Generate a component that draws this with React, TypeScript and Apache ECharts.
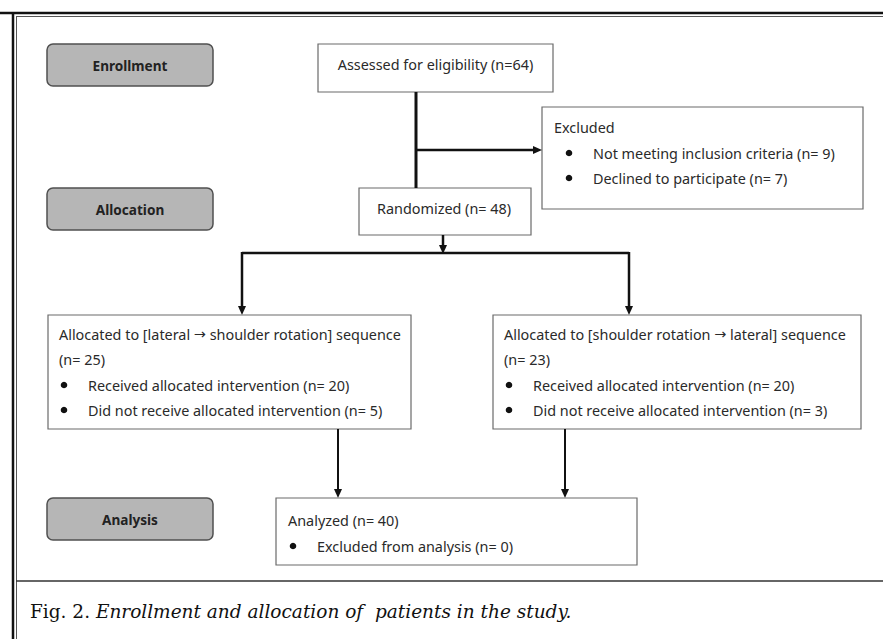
import React, { useEffect, useRef } from "react";
import * as echarts from "echarts";

// ---- data (text content and counts) ----
const stageLabels = ["Enrollment", "Allocation", "Analysis"];
const assessedCount = 64;
const excludedReasons = ["Not meeting inclusion criteria", "Declined to participate"];
const excludedCounts = [9, 7];
const randomizedCount = 48;
const groupSequences = [
  ["lateral", "shoulder rotation"],
  ["shoulder rotation", "lateral"],
];
const groupCounts = [25, 23];
const receivedCounts = [20, 20];
const notReceivedCounts = [5, 3];
const analyzedCount = 40;
const excludedFromAnalysis = 0;
const captionLabel = "Fig. 2.";
const captionText = "Enrollment and allocation of  patients in the study.";

const SANS = "'Noto Sans', 'Open Sans', sans-serif";
const FS = 14.4;
const TXT = "#2a2a2a";
const BOX_STROKE = "#6a6a6a";

function box(x: number, y: number, w: number, h: number) {
  return {
    type: "rect",
    shape: { x, y, width: w, height: h },
    style: { fill: "#fff", stroke: BOX_STROKE, lineWidth: 1.2 },
  };
}
function stage(label: string, y: number) {
  return [
    {
      type: "rect",
      shape: { x: 47, y, width: 166, height: 42, r: 6 },
      style: { fill: "#b6b6b6", stroke: "#505050", lineWidth: 1.5 },
    },
    {
      type: "text",
      style: {
        text: label, x: 130, y: y + 21, align: "center", verticalAlign: "middle",
        fontFamily: SANS, fontSize: 13.6, fontWeight: "bold", fill: "#222",
      },
    },
  ];
}
function txt(text: string, x: number, y: number, align = "left") {
  return {
    type: "text",
    style: { text, x, y, align, verticalAlign: "middle", fontFamily: SANS, fontSize: FS, fill: TXT },
  };
}
function arrowTxt(before: string, a: string, b: string, after: string, x: number, y: number) {
  return {
    type: "text",
    style: {
      text: `{t|${before}${a} }{a|→}{t| ${b}${after}}`,
      x, y, verticalAlign: "middle",
      fontFamily: SANS, fontSize: FS, fill: TXT,
      rich: {
        t: { fontFamily: SANS, fontSize: FS, fill: TXT },
        a: { fontFamily: "'DejaVu Sans', sans-serif", fontSize: FS, fill: TXT },
      },
    },
  };
}
function bullet(x: number, y: number) {
  return { type: "circle", shape: { cx: x, cy: y, r: 3.3 }, style: { fill: "#111" } };
}
function seg(x1: number, y1: number, x2: number, y2: number, lw: number) {
  return {
    type: "line",
    shape: { x1, y1, x2, y2 },
    style: { stroke: "#111", lineWidth: lw },
  };
}
function arrowDown(x: number, tipY: number) {
  return {
    type: "polygon",
    shape: { points: [[x - 4, tipY - 9], [x + 4, tipY - 9], [x, tipY]] },
    style: { fill: "#111" },
  };
}
function arrowRight(tipX: number, y: number) {
  return {
    type: "polygon",
    shape: { points: [[tipX - 9, y - 4], [tipX - 9, y + 4], [tipX, y]] },
    style: { fill: "#111" },
  };
}

export default function App() {
  const ref = useRef<HTMLDivElement>(null);
  useEffect(() => {
    document.body.style.margin = "0";
    const chart = echarts.init(ref.current!, null, { renderer: "svg" });
    const elements: any[] = [];

    // outer frame
    elements.push(seg(0, 13, 883, 13, 2.5));
    elements.push(seg(13, 12, 13, 639, 2.5));
    elements.push({ type: "line", shape: { x1: 16, y1: 16.5, x2: 883, y2: 16.5 }, style: { stroke: "#555", lineWidth: 1 } });
    elements.push({ type: "line", shape: { x1: 16.5, y1: 16, x2: 16.5, y2: 639 }, style: { stroke: "#555", lineWidth: 1 } });
    elements.push({ type: "line", shape: { x1: 16, y1: 581, x2: 883, y2: 581 }, style: { stroke: "#333", lineWidth: 1.5 } });

    // stage labels
    const stageY = [44, 188, 498];
    stageLabels.forEach((s, i) => elements.push(...stage(s, stageY[i])));

    // assessed
    elements.push(box(318, 44, 235, 48));
    elements.push(txt(`Assessed for eligibility (n=${assessedCount})`, 435.5, 64, "center"));

    // excluded
    elements.push(box(542, 107, 321, 102));
    elements.push(txt("Excluded", 554, 127));
    excludedReasons.forEach((r, i) => {
      const y = 153 + i * 25;
      elements.push(bullet(569, y));
      elements.push(txt(`${r} (n= ${excludedCounts[i]})`, 593, y));
    });

    // randomized
    elements.push(box(359, 188, 172, 47));
    elements.push(txt(`Randomized (n= ${randomizedCount})`, 377, 208));

    // connectors top
    elements.push(seg(416, 92, 416, 188, 3));
    elements.push(seg(416, 150, 534, 150, 2.5));
    elements.push(arrowRight(542, 150));
    elements.push(seg(443, 235, 443, 246, 2.5));
    elements.push(arrowDown(443, 254));
    elements.push(seg(242, 253, 629, 253, 2.5));
    elements.push(seg(242, 252, 242, 307, 2.5));
    elements.push(arrowDown(242, 315));
    elements.push(seg(629, 252, 629, 307, 2.5));
    elements.push(arrowDown(629, 315));

    // group boxes
    const gx = [48, 493];
    const gw = [363, 368];
    groupSequences.forEach((seq, i) => {
      const x = gx[i];
      elements.push(box(x, 315, gw[i], 114));
      elements.push(arrowTxt("Allocated to [", seq[0], seq[1], "] sequence", x + 11, 334));
      elements.push(txt(`(n= ${groupCounts[i]})`, x + 11, 359));
      elements.push(bullet(x + 16, 385));
      elements.push(txt(`Received allocated intervention (n= ${receivedCounts[i]})`, x + 40, 385));
      elements.push(bullet(x + 16, 410));
      elements.push(txt(`Did not receive allocated intervention (n= ${notReceivedCounts[i]})`, x + 40, 410));
    });

    // connectors bottom
    elements.push(seg(338, 429, 338, 490, 2));
    elements.push(arrowDown(338, 498));
    elements.push(seg(565, 429, 565, 490, 2));
    elements.push(arrowDown(565, 498));

    // analyzed
    elements.push(box(276, 498, 361, 67));
    elements.push(txt(`Analyzed (n= ${analyzedCount})`, 288, 520));
    elements.push(bullet(293, 546));
    elements.push(txt(`Excluded from analysis (n= ${excludedFromAnalysis})`, 317, 546));

    // caption
    const SERIF = "'DejaVu Serif', 'Liberation Serif', serif";
    elements.push({
      type: "text",
      style: {
        text: `{n|${captionLabel}} {i|${captionText}}`,
        x: 30, y: 611, verticalAlign: "middle",
        rich: {
          n: { fontFamily: SERIF, fontSize: 18.5, fill: "#111" },
          i: { fontFamily: SERIF, fontSize: 18.5, fontStyle: "italic", fill: "#111" },
        },
        fontFamily: SERIF, fontSize: 18.5, fill: "#111",
      },
    });

    chart.setOption({
      animation: false,
      backgroundColor: "#fff",
      graphic: { elements },
    });
    return () => chart.dispose();
  }, []);
  return <div ref={ref} style={{ width: 883, height: 639 }} />;
}
